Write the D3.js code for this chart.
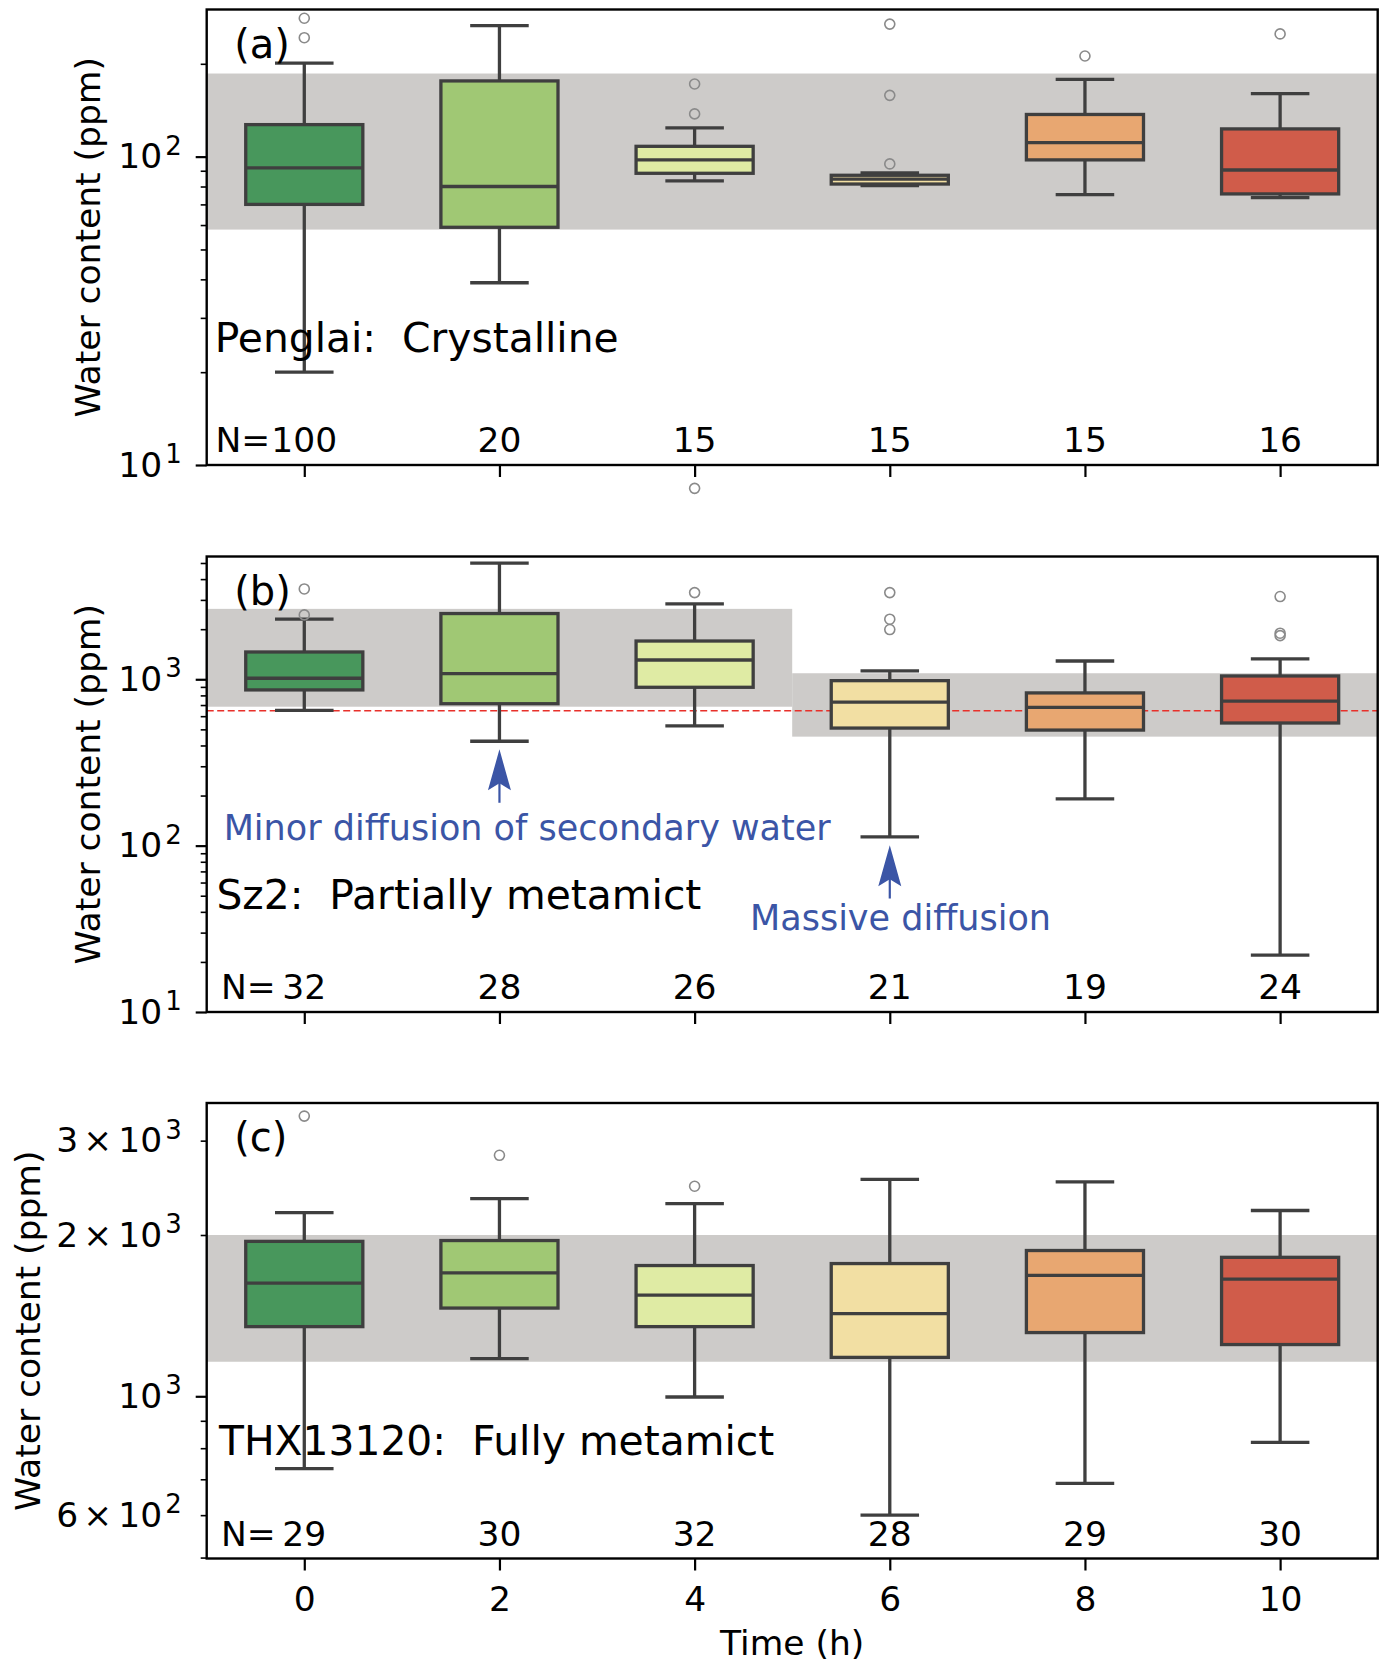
<!DOCTYPE html>
<html><head><meta charset="utf-8">
<script src="https://cdn.jsdelivr.net/npm/d3@7"></script>
<style>body{margin:0;background:#fff} svg{display:block} text{font-family:"DejaVu Sans",sans-serif;fill:#000}</style>
</head><body>
<svg id="chart" width="1383" height="1662"></svg>
<script>
// ---------------- data ----------------
const categories = ["0", "2", "4", "6", "8", "10"];
const boxColors = ["#48975c", "#a0c874", "#dfeba4", "#f2dfa3", "#e8a771", "#d05c4a"];

// [whislo, q1, median, q3, whishi]
const penglaiStats = [[20, 70, 92, 127, 201], [39, 59, 80, 176, 266], [83.4, 88.3, 97.6, 108, 124],
                      [80.5, 81.5, 84.5, 87, 88.5], [75.3, 97.6, 111, 137, 178], [73.6, 75.7, 90.5, 123, 160]];
const penglaiFliers = [[243, 281], [], [8.4, 137.6, 172], [94.7, 158, 269], [212], [250]];
const penglaiN = [100, 20, 15, 15, 15, 16];
const penglaiBand = [[-0.5, 5.5, 58, 186]];

const sz2Stats = [[650, 863, 1014, 1459, 2296], [424, 713, 1081, 2484, 4990], [524, 895, 1306, 1698, 2839],
                  [113, 509, 728, 981, 1122], [191, 495, 678, 828, 1288], [22, 546, 740, 1047, 1325]];
const sz2Fliers = [[2438, 3491], [], [3319], [1990, 2296, 3319], [], [1829, 1892, 3142]];
const sz2N = [32, 28, 26, 21, 19, 24];
const sz2Band = [[-0.5, 2.5, 684, 2650], [2.5, 5.5, 452, 1087]];
const sz2RefLine = 647;

const thxStats = [[733, 1349, 1626, 1946, 2201], [1176, 1461, 1700, 1953, 2339], [997, 1349, 1545, 1754, 2289],
                  [600, 1182, 1427, 1769, 2541], [688, 1315, 1681, 1871, 2512], [820, 1249, 1654, 1817, 2222]];
const thxFliers = [[3334], [2817], [2466], [], [], []];
const thxN = [29, 30, 32, 28, 29, 30];
const thxBand = [[-0.5, 5.5, 1160, 2000]];

const penglaiDomain = [10, 300];
const sz2Domain = [10, 5470];
const thxDomain = [498, 3527];

// tick labels: [mantissa or "", base, exponent]
const penglaiMajor = [10, 100];
const penglaiMajorLabels = [["", "10", "1"], ["", "10", "2"]];
const penglaiMinor = [20, 30, 40, 50, 60, 70, 80, 90, 200];
const sz2Major = [10, 100, 1000];
const sz2MajorLabels = [["", "10", "1"], ["", "10", "2"], ["", "10", "3"]];
const sz2Minor = [20, 30, 40, 50, 60, 70, 80, 90, 200, 300, 400, 500, 600, 700, 800, 900, 2000, 3000, 4000, 5000];
const thxMajor = [1000];
const thxMinor = [500, 600, 700, 800, 900, 2000, 3000];
const thxLabelTicks = [600, 1000, 2000, 3000];
const thxLabels = [["6", "10", "2"], ["", "10", "3"], ["2", "10", "3"], ["3", "10", "3"]];

const sampleNames = ["Penglai:  Crystalline", "Sz2:  Partially metamict", "THX13120:  Fully metamict"];
const panelLetters = ["(a)", "(b)", "(c)"];

// annotations: [text, x(category units), y(value)]
const sz2Notes = [["Minor diffusion of secondary water", -0.413, 108], ["Massive diffusion", 2.284, 31]];
// arrows: [category, tip value, tail value]
const sz2Arrows = [[1, 379, 181], [3, 100.7, 48.1]];

// ---------------- layout ----------------
const svg = d3.select("#chart");
const L = 206.7, R = 1377.7, H = 455.5;
const x = d3.scaleLinear().domain([-0.5, 5.5]).range([L, R]);
const bw = (x(1) - x(0)) * 0.6;
const FS = 34.5;

const panels = [
  {top: 9.5, domain: penglaiDomain, stats: penglaiStats, fliers: penglaiFliers, N: penglaiN, band: penglaiBand,
   major: penglaiMajor, minor: penglaiMinor, labelTicks: penglaiMajor, labels: penglaiMajorLabels,
   nx: 215.5, nameX: 214.7, nameY: 352, ylabX: 99.5},
  {top: 556.5, domain: sz2Domain, stats: sz2Stats, fliers: sz2Fliers, N: sz2N, band: sz2Band,
   major: sz2Major, minor: sz2Minor, labelTicks: sz2Major, labels: sz2MajorLabels,
   nx: 221, nameX: 216.4, nameY: 909, ylabX: 99.5},
  {top: 1103, domain: thxDomain, stats: thxStats, fliers: thxFliers, N: thxN, band: thxBand,
   major: thxMajor, minor: thxMinor, labelTicks: thxLabelTicks, labels: thxLabels,
   nx: 221, nameX: 219, nameY: 1455, ylabX: 39.5}
];

panels.forEach((p, pi) => {
  const bottom = p.top + H;
  const y = d3.scaleLog().domain(p.domain).range([bottom, p.top]);
  const g = svg.append("g");

  // band
  g.selectAll("rect.band").data(p.band).join("rect").attr("class", "band")
    .attr("x", d => x(d[0])).attr("width", d => x(d[1]) - x(d[0]))
    .attr("y", d => y(d[3])).attr("height", d => y(d[2]) - y(d[3]))
    .attr("fill", "#cdcbc9");

  if (pi === 1) {
    g.append("line").attr("x1", L).attr("x2", R).attr("y1", y(sz2RefLine)).attr("y2", y(sz2RefLine))
      .attr("stroke", "#e8302a").attr("stroke-width", 1.6).attr("stroke-dasharray", "7,3.5");
  }

  const col = "#3f3f3f", lw = 3.3;
  const boxes = g.selectAll("g.box").data(p.stats).join("g").attr("class", "box");
  boxes.append("line").attr("x1", (d, i) => x(i)).attr("x2", (d, i) => x(i))
    .attr("y1", d => y(d[0])).attr("y2", d => y(d[1])).attr("stroke", col).attr("stroke-width", lw);
  boxes.append("line").attr("x1", (d, i) => x(i)).attr("x2", (d, i) => x(i))
    .attr("y1", d => y(d[3])).attr("y2", d => y(d[4])).attr("stroke", col).attr("stroke-width", lw);
  [0, 4].forEach(k => {
    boxes.append("line").attr("x1", (d, i) => x(i) - bw / 4).attr("x2", (d, i) => x(i) + bw / 4)
      .attr("y1", d => y(d[k])).attr("y2", d => y(d[k])).attr("stroke", col).attr("stroke-width", lw);
  });
  boxes.append("rect").attr("x", (d, i) => x(i) - bw / 2).attr("width", bw)
    .attr("y", d => y(d[3])).attr("height", d => y(d[1]) - y(d[3]))
    .attr("fill", (d, i) => boxColors[i]).attr("stroke", col).attr("stroke-width", lw);
  boxes.append("line").attr("x1", (d, i) => x(i) - bw / 2).attr("x2", (d, i) => x(i) + bw / 2)
    .attr("y1", d => y(d[2])).attr("y2", d => y(d[2])).attr("stroke", col).attr("stroke-width", lw);

  const fl = [];
  p.fliers.forEach((arr, i) => arr.forEach(v => fl.push([i, v])));
  g.selectAll("circle.fl").data(fl).join("circle").attr("class", "fl")
    .attr("cx", d => x(d[0])).attr("cy", d => y(d[1])).attr("r", 5)
    .attr("fill", "none").attr("stroke", "#8a8a8a").attr("stroke-width", 1.6);

  // frame
  g.append("rect").attr("x", L).attr("y", p.top).attr("width", R - L).attr("height", H)
    .attr("fill", "none").attr("stroke", "#000").attr("stroke-width", 2.4);

  // y axis ticks
  const yMaj = g.append("g").attr("transform", `translate(${L},0)`)
    .call(d3.axisLeft(y).tickValues(p.major).tickSize(11).tickFormat(() => ""));
  const yMin = g.append("g").attr("transform", `translate(${L},0)`)
    .call(d3.axisLeft(y).tickValues(p.minor).tickSize(6).tickFormat(() => ""));
  [yMaj, yMin].forEach(a => { a.select(".domain").remove(); });
  yMaj.selectAll(".tick line").attr("stroke", "#000").attr("stroke-width", 2.2);
  yMin.selectAll(".tick line").attr("stroke", "#000").attr("stroke-width", 1.6);

  // y tick labels (math-text style)
  p.labelTicks.forEach((v, k) => {
    const lab = p.labels[k];
    const t = g.append("text").attr("x", L - 25).attr("y", y(v) + 11.5)
      .attr("text-anchor", "end").attr("font-size", FS);
    if (lab[0]) {
      t.append("tspan").text(lab[0]);
      t.append("tspan").attr("dx", 5).text("×");
      t.append("tspan").attr("dx", 6).text(lab[1]);
    } else {
      t.append("tspan").text(lab[1]);
    }
    t.append("tspan").attr("dx", 3).attr("dy", -13.5).attr("font-size", 26).text(lab[2]);
  });

  // x axis ticks
  const xa = g.append("g").attr("transform", `translate(0,${bottom})`)
    .call(d3.axisBottom(x).tickValues(d3.range(categories.length)).tickSize(12)
      .tickFormat(pi === 2 ? (i => categories[i]) : () => ""));
  xa.select(".domain").remove();
  xa.selectAll(".tick line").attr("stroke", "#000").attr("stroke-width", 2.2);
  xa.selectAll(".tick text").attr("font-size", FS).attr("font-family", "DejaVu Sans").attr("fill", "#000")
    .attr("dy", null).attr("y", 52);

  // y label
  g.append("text").attr("transform", `translate(${p.ylabX},${p.top + H / 2}) rotate(-90)`)
    .attr("text-anchor", "middle").attr("font-size", FS).text("Water content (ppm)");

  // N labels
  g.append("text").attr("x", p.nx).attr("y", bottom - 13).attr("font-size", FS).text("N=");
  g.selectAll("text.n").data(p.N).join("text").attr("class", "n")
    .attr("x", (d, i) => x(i)).attr("y", bottom - 13).attr("text-anchor", "middle")
    .attr("font-size", FS).text(d => d);

  // sample name & panel letter
  g.append("text").attr("x", p.nameX).attr("y", p.nameY).attr("font-size", 40.8)
    .style("white-space", "pre").attr("xml:space", "preserve").text(sampleNames[pi]);
  g.append("text").attr("x", 234.2).attr("y", p.top + 48).attr("font-size", 40).text(panelLetters[pi]);

  if (pi === 1) {
    const blue = "#3b55a6";
    g.selectAll("text.note").data(sz2Notes).join("text").attr("class", "note")
      .attr("x", d => x(d[1])).attr("y", d => y(d[2])).attr("font-size", 35)
      .style("fill", blue).text(d => d[0]);
    sz2Arrows.forEach(a => {
      const cx = x(a[0]), tip = y(a[1]), tail = y(a[2]);
      g.append("line").attr("x1", cx).attr("x2", cx).attr("y1", tip + 30).attr("y2", tail)
        .attr("stroke", blue).attr("stroke-width", 2.2);
      g.append("path").attr("d", `M${cx},${tip} L${cx - 11.5},${tip + 41} L${cx},${tip + 34} L${cx + 11.5},${tip + 41} Z`)
        .attr("fill", blue);
    });
  }
});

// x label
svg.append("text").attr("x", (L + R) / 2).attr("y", 1655).attr("text-anchor", "middle")
  .attr("font-size", FS).text("Time (h)");
</script>
</body></html>
